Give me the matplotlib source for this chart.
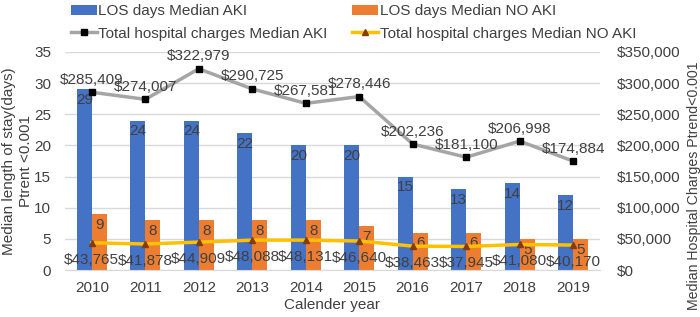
import numpy as np
import matplotlib
matplotlib.use("Agg")
import matplotlib.pyplot as plt
from matplotlib.ticker import FuncFormatter

plt.rcParams['font.family'] = ['Liberation Sans', 'DejaVu Sans']

years = ['2010', '2011', '2012', '2013', '2014', '2015', '2016', '2017', '2018', '2019']
los_aki = [29, 24, 24, 22, 20, 20, 15, 13, 14, 12]
los_no_aki = [9, 8, 8, 8, 8, 7, 6, 6, 5, 5]
charges_aki = [285409, 274007, 322979, 290725, 267581, 278446, 202236, 181100, 206998, 174884]
charges_no_aki = [43765, 41878, 44909, 48088, 48131, 46640, 38463, 37945, 41080, 40170]

txt = '#404040'
fs = 11

fig, ax = plt.subplots(figsize=(7, 3.17), dpi=100)
fig.subplots_adjust(left=0.093, right=0.857, top=0.836, bottom=0.148)
ax2 = ax.twinx()

x = np.arange(len(years))
w = 0.28
b1 = ax.bar(x - w / 2, los_aki, w, color='#4472C4', label='LOS days Median AKI', zorder=2)
b2 = ax.bar(x + w / 2, los_no_aki, w, color='#ED7D31', label='LOS days Median NO AKI', zorder=2)

# bar value labels just inside the top of each bar
for xi, v in zip(x - w / 2, los_aki):
    ax.text(xi, v - 0.6, str(v), ha='center', va='top', fontsize=fs, color=txt, zorder=5)
for xi, v in zip(x + w / 2, los_no_aki):
    ax.text(xi, v - 0.6, str(v), ha='center', va='top', fontsize=fs, color=txt, zorder=5)

l1, = ax2.plot(x, charges_aki, color='#A5A5A5', lw=2.5, marker='s', ms=5,
               mfc='black', mec='black', label='Total hospital charges Median AKI', zorder=3)
l2, = ax2.plot(x, charges_no_aki, color='#FFC000', lw=2.5, marker='^', ms=5,
               mfc='#843C0C', mec='#843C0C', label='Total hospital charges Median NO AKI', zorder=3)

for xi, v in zip(x, charges_aki):
    ax2.annotate(f'${v:,}', (xi, v), xytext=(0, 4), textcoords='offset points',
                 ha='center', va='bottom', fontsize=fs, color=txt)
for xi, v in zip(x, charges_no_aki):
    ax2.annotate(f'${v:,}', (xi, v), xytext=(0, -7), textcoords='offset points',
                 ha='center', va='top', fontsize=fs, color=txt)

ax.set_xlim(-0.5, len(years) - 0.5)
ax.set_ylim(0, 35)
ax.set_yticks(range(0, 36, 5))
ax2.set_ylim(0, 350000)
ax2.set_yticks(range(0, 350001, 50000))
ax2.yaxis.set_major_formatter(FuncFormatter(lambda v, p: f'${int(v):,}'))

ax.set_xticks(x)
ax.set_xticklabels(years)
ax.grid(axis='y', color='#D9D9D9', lw=1, zorder=0)
ax.set_axisbelow(True)

for a in (ax, ax2):
    for s in a.spines.values():
        s.set_visible(False)
    a.tick_params(length=0, labelsize=fs, labelcolor=txt)
ax.spines['bottom'].set_visible(True)
ax.spines['bottom'].set_color('#D9D9D9')
ax.tick_params(axis='x', pad=8)
ax.tick_params(axis='y', pad=10)
ax2.tick_params(axis='y', pad=12)

ax.set_xlabel('Calender year', fontsize=fs, color=txt, labelpad=2)
ax.set_ylabel('Median length of stay(days)\nPtrent <0.001', fontsize=fs, color=txt,
              linespacing=1.25)
ax.yaxis.set_label_coords(-0.06, 0.5)
ax2.set_ylabel('Median Hospital Charges Ptrend<0.001', fontsize=10.2, color=txt)
ax2.yaxis.set_label_coords(1.162, 0.385)

fig.legend(handles=[b1, l1, b2, l2], loc='upper center', bbox_to_anchor=(0.505, 1.03), ncol=2,
           frameon=False, fontsize=fs, labelcolor=txt, handlelength=1.7, handletextpad=0.1,
           columnspacing=1.6, labelspacing=0.55)

fig.savefig('out.png', dpi=100)
